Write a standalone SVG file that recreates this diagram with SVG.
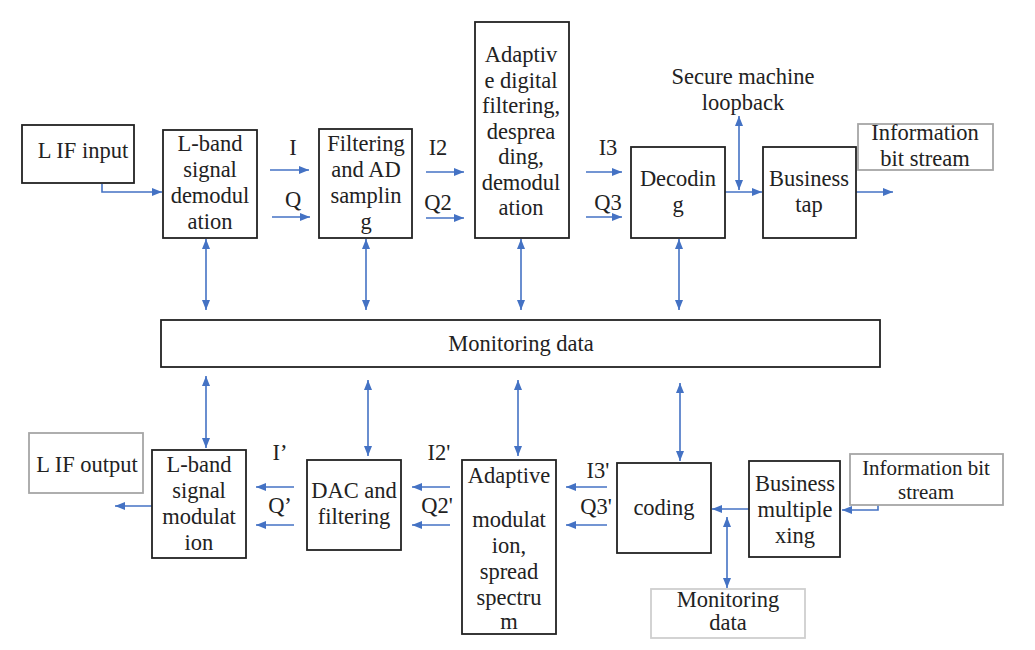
<svg xmlns="http://www.w3.org/2000/svg" width="1035" height="650" viewBox="0 0 1035 650">
<defs>
<marker id="ah" viewBox="0 0 10 10" refX="10" refY="5" markerWidth="10" markerHeight="10" markerUnits="userSpaceOnUse" orient="auto-start-reverse">
<path d="M0,1 L10,5 L0,9 z" fill="#4472C4"/>
</marker>
</defs>
<rect width="1035" height="650" fill="#fff"/>

<g id="connectors" fill="none" stroke="#4472C4" stroke-width="1.6">
<path d="M102,184 V192 H162" marker-end="url(#ah)"/>
<path d="M270,170 H309" marker-end="url(#ah)"/>
<path d="M272,217 H310" marker-end="url(#ah)"/>
<path d="M426,172 H464" marker-end="url(#ah)"/>
<path d="M426,218 H464" marker-end="url(#ah)"/>
<path d="M586,172 H622" marker-end="url(#ah)"/>
<path d="M586,217 H622" marker-end="url(#ah)"/>
<path d="M725,192 H762" marker-end="url(#ah)"/>
<path d="M856,192 H893" marker-end="url(#ah)"/>
<path d="M739,116 V190" marker-start="url(#ah)" marker-end="url(#ah)"/>
<path d="M206,239 V310" marker-start="url(#ah)" marker-end="url(#ah)"/>
<path d="M366,239 V310" marker-start="url(#ah)" marker-end="url(#ah)"/>
<path d="M521,239 V310" marker-start="url(#ah)" marker-end="url(#ah)"/>
<path d="M679,239 V310" marker-start="url(#ah)" marker-end="url(#ah)"/>
<path d="M206,376 V448" marker-start="url(#ah)" marker-end="url(#ah)"/>
<path d="M368,380 V456" marker-start="url(#ah)" marker-end="url(#ah)"/>
<path d="M518,380 V456" marker-start="url(#ah)" marker-end="url(#ah)"/>
<path d="M680,383 V461" marker-start="url(#ah)" marker-end="url(#ah)"/>
<path d="M152,506 H115" marker-end="url(#ah)"/>
<path d="M294,487 H256" marker-end="url(#ah)"/>
<path d="M294,525 H256" marker-end="url(#ah)"/>
<path d="M450,487 H412" marker-end="url(#ah)"/>
<path d="M450,525 H412" marker-end="url(#ah)"/>
<path d="M607,487 H566" marker-end="url(#ah)"/>
<path d="M607,525 H566" marker-end="url(#ah)"/>
<path d="M749,509 H712" marker-end="url(#ah)"/>
<path d="M878,505 V510 H842" marker-end="url(#ah)"/>
<path d="M727,517 V588" marker-start="url(#ah)" marker-end="url(#ah)"/>
</g>

<g font-family="Liberation Serif" font-size="22.5" text-anchor="middle" fill="#222">
<g id="labels">
<text font-family="Liberation Serif" x="293" y="155">I</text>
<text font-family="Liberation Serif" x="293" y="207">Q</text>
<text font-family="Liberation Serif" x="438" y="155">I2</text>
<text font-family="Liberation Serif" x="438" y="210">Q2</text>
<text font-family="Liberation Serif" x="608" y="155">I3</text>
<text font-family="Liberation Serif" x="608" y="210">Q3</text>
<text font-family="Liberation Serif" x="280" y="460">I’</text>
<text font-family="Liberation Serif" x="280" y="513">Q’</text>
<text font-family="Liberation Serif" x="439" y="460">I2'</text>
<text font-family="Liberation Serif" x="437" y="513">Q2'</text>
<text font-family="Liberation Serif" x="598" y="478">I3'</text>
<text font-family="Liberation Serif" x="596" y="514">Q3'</text>
<text font-family="Liberation Serif" x="743" y="84">Secure machine</text>
<text font-family="Liberation Serif" x="743" y="110">loopback</text>
</g>

<g id="lif-input"><rect fill="#fff" stroke="#222" stroke-width="1.8" x="22" y="125" width="112" height="58"/><text font-family="Liberation Serif" x="83" y="158">L IF input</text></g>
<g id="lband-demod"><rect fill="#fff" stroke="#222" stroke-width="1.8" x="163" y="130" width="94" height="108"/>
<text font-family="Liberation Serif" x="210" y="151">L-band</text><text font-family="Liberation Serif" x="210" y="177">signal</text><text font-family="Liberation Serif" x="210" y="203">demodul</text><text font-family="Liberation Serif" x="210" y="229">ation</text></g>
<g id="filter-ad"><rect fill="#fff" stroke="#222" stroke-width="1.8" x="319" y="129" width="93" height="109"/>
<text font-family="Liberation Serif" x="366" y="151">Filtering</text><text font-family="Liberation Serif" x="366" y="177">and AD</text><text font-family="Liberation Serif" x="366" y="203">samplin</text><text font-family="Liberation Serif" x="366" y="229">g</text></g>
<g id="adaptive-filter"><rect fill="#fff" stroke="#222" stroke-width="1.8" x="475" y="22" width="94" height="216"/>
<text font-family="Liberation Serif" x="521" y="62">Adaptiv</text><text font-family="Liberation Serif" x="521" y="87.5">e digital</text><text font-family="Liberation Serif" x="521" y="113">filtering,</text><text font-family="Liberation Serif" x="521" y="138.5">desprea</text><text font-family="Liberation Serif" x="521" y="164">ding,</text><text font-family="Liberation Serif" x="521" y="189.5">demodul</text><text font-family="Liberation Serif" x="521" y="215">ation</text></g>
<g id="decoding"><rect fill="#fff" stroke="#222" stroke-width="1.8" x="631" y="147" width="94" height="91"/>
<text font-family="Liberation Serif" x="678" y="186">Decodin</text><text font-family="Liberation Serif" x="678" y="212">g</text></g>
<g id="business-tap"><rect fill="#fff" stroke="#222" stroke-width="1.8" x="763" y="147" width="93" height="91"/>
<text font-family="Liberation Serif" x="809" y="186">Business</text><text font-family="Liberation Serif" x="809" y="212">tap</text></g>
<g id="info-out"><rect fill="#fff" stroke="#a6a6a6" stroke-width="1.8" x="858" y="124" width="135" height="46"/>
<text font-family="Liberation Serif" x="925" y="140">Information</text><text font-family="Liberation Serif" x="925" y="166">bit stream</text></g>

<g id="monitoring"><rect fill="#fff" stroke="#222" stroke-width="1.8" x="161" y="320" width="719" height="47"/><text font-family="Liberation Serif" x="521" y="351">Monitoring data</text></g>

<g id="lif-output"><rect fill="#fff" stroke="#a6a6a6" stroke-width="1.8" x="29" y="433" width="114" height="60"/><text font-family="Liberation Serif" x="87" y="472">L IF output</text></g>
<g id="lband-mod"><rect fill="#fff" stroke="#222" stroke-width="1.8" x="152" y="450" width="94" height="108"/>
<text font-family="Liberation Serif" x="199" y="472">L-band</text><text font-family="Liberation Serif" x="199" y="498">signal</text><text font-family="Liberation Serif" x="199" y="524">modulat</text><text font-family="Liberation Serif" x="199" y="550">ion</text></g>
<g id="dac"><rect fill="#fff" stroke="#222" stroke-width="1.8" x="307" y="460" width="94" height="90"/>
<text font-family="Liberation Serif" x="354" y="498">DAC and</text><text font-family="Liberation Serif" x="354" y="524">filtering</text></g>
<g id="adaptive-mod"><rect fill="#fff" stroke="#222" stroke-width="1.8" x="462" y="460" width="94" height="174"/>
<text font-family="Liberation Serif" x="509" y="483">Adaptive</text><text font-family="Liberation Serif" x="509" y="527">modulat</text><text font-family="Liberation Serif" x="509" y="553">ion,</text><text font-family="Liberation Serif" x="509" y="579">spread</text><text font-family="Liberation Serif" x="509" y="605">spectru</text><text font-family="Liberation Serif" x="509" y="629">m</text></g>
<g id="coding"><rect fill="#fff" stroke="#222" stroke-width="1.8" x="617" y="463" width="94" height="90"/><text font-family="Liberation Serif" x="664" y="515">coding</text></g>
<g id="business-mux"><rect fill="#fff" stroke="#222" stroke-width="1.8" x="749" y="461" width="91" height="96"/>
<text font-family="Liberation Serif" x="795" y="491">Business</text><text font-family="Liberation Serif" x="795" y="517">multiple</text><text font-family="Liberation Serif" x="795" y="543">xing</text></g>
<g id="info-in"><rect fill="#fff" stroke="#a6a6a6" stroke-width="1.8" x="850" y="454" width="153" height="51"/>
<text font-family="Liberation Serif" font-size="21" x="926" y="475">Information bit</text><text font-family="Liberation Serif" font-size="21" x="926" y="499">stream</text></g>
<g id="monitoring-bottom"><rect fill="#fff" stroke="#cfcfcf" stroke-width="1.8" x="651" y="589" width="154" height="49"/>
<text font-family="Liberation Serif" x="728" y="607">Monitoring</text><text font-family="Liberation Serif" x="728" y="630">data</text></g>
</g>
</svg>
